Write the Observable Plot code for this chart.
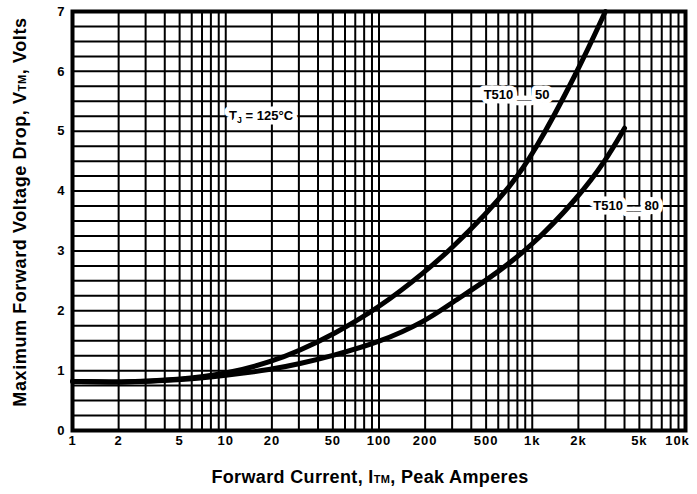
<!DOCTYPE html>
<html><head><meta charset="utf-8">
<script src="https://cdn.jsdelivr.net/npm/d3@7"></script>
<script src="https://cdn.jsdelivr.net/npm/@observablehq/plot@0.6"></script>
<style>body{margin:0;background:#fff} svg{display:block}</style>
</head><body><div id="chart"></div>
<script>
// Series: T510__50 (steeper) and T510__80
const currents50 = [1, 2, 5, 10, 20, 30, 50, 100, 200, 300, 500, 700, 1000, 2000, 3000];
const volts50    = [0.82, 0.8, 0.85, 0.94, 1.15, 1.33, 1.6, 2.05, 2.65, 3.05, 3.62, 4.05, 4.58, 6.02, 7.0];
const currents80 = [1, 2, 5, 10, 20, 30, 50, 100, 200, 300, 500, 1000, 2000, 3000, 4000];
const volts80    = [0.82, 0.8, 0.84, 0.92, 1.02, 1.11, 1.25, 1.47, 1.82, 2.14, 2.5, 3.08, 3.9, 4.5, 5.05];

// Axis ticks
const xTicks = [1, 2, 5, 10, 20, 50, 100, 200, 500, 1000, 2000, 5000, 10000];
const xTickLabels = ["1", "2", "5", "10", "20", "50", "100", "200", "500", "1k", "2k", "5k", "10k"];
const yTicks = [0, 1, 2, 3, 4, 5, 6, 7];
const yGrid = [0, 0.25, 0.5, 0.75, 1, 1.25, 1.5, 1.75, 2, 2.25, 2.5, 2.75, 3, 3.25, 3.5, 3.75,
               4, 4.25, 4.5, 4.75, 5, 5.25, 5.5, 5.75, 6, 6.25, 6.5, 6.75, 7];

// Annotations
const annotations = [
  {x: 17, y: 5.25, text: "TJ = 125°C"},
  {x: 790, y: 5.6, text: "T510 __ 50"},
  {x: 4100, y: 3.75, text: "T510 __ 80"}
];
const xTitle = "Forward Current, ITM, Peak Amperes";
const yTitle = "Maximum Forward Voltage Drop, VTM, Volts";

const s50 = currents50.map((c, i) => ({c, v: volts50[i]}));
const s80 = currents80.map((c, i) => ({c, v: volts80[i]}));
const xLab = xTicks.map((t, i) => ({t, label: xTickLabels[i]}));
const font = "'Liberation Sans', Arial, Helvetica, sans-serif";

const chart = Plot.plot({
  width: 697,
  height: 494,
  marginLeft: 72,
  marginRight: 12,
  marginTop: 11,
  marginBottom: 64,
  style: {fontFamily: font, fontSize: "13px", fontWeight: "bold", color: "#000", background: "#fff"},
  x: {type: "log", domain: [1, 10000], axis: null},
  y: {domain: [0, 7], axis: null},
  marks: [
    Plot.gridX({stroke: "#000", strokeOpacity: 1, strokeWidth: 2}),
    Plot.gridY(yGrid, {stroke: "#000", strokeOpacity: 1, strokeWidth: 2}),
    Plot.line(s50, {x: "c", y: "v", stroke: "#000", strokeWidth: 5, curve: "basis"}),
    Plot.line(s80, {x: "c", y: "v", stroke: "#000", strokeWidth: 5, curve: "basis"}),
    Plot.text(annotations, {x: "x", y: "y", text: "text", fill: "#000", stroke: "#fff", strokeWidth: 9,
      fontSize: 13, fontWeight: "bold", fontFamily: font}),
    Plot.frame({stroke: "#000", strokeWidth: 4}),
    // x tick labels
    Plot.text(xLab.slice(0, -1), {x: "t", text: "label", frameAnchor: "bottom", lineAnchor: "middle", dy: 10,
      fontSize: 13, fontWeight: "bold", fontFamily: font, fill: "#000"}),
    Plot.text(xLab.slice(-1), {x: "t", text: "label", frameAnchor: "bottom", lineAnchor: "middle", dy: 10, dx: -8,
      fontSize: 13, fontWeight: "bold", fontFamily: font, fill: "#000"}),
    // y tick labels
    Plot.text(yTicks, {y: d => d, text: d => String(d), frameAnchor: "left", textAnchor: "end", lineAnchor: "middle", dx: -7,
      fontSize: 13, fontWeight: "bold", fontFamily: font, fill: "#000"}),
    // titles
    Plot.text([xTitle], {frameAnchor: "bottom", lineAnchor: "middle", dy: 47, dx: -9, fontSize: 18, fontWeight: "bold", fontFamily: font, fill: "#000"}),
    Plot.text([yTitle], {frameAnchor: "left", rotate: -90, textAnchor: "middle", lineAnchor: "middle", dx: -52, dy: -9,
      fontSize: 18, fontWeight: "bold", fontFamily: font, fill: "#000"})
  ]
});
document.getElementById("chart").appendChild(chart);

// Subscripts and letter spacing
function rebuild(textEl, parts) {
  const sel = d3.select(textEl);
  sel.text(null);
  for (const [str, sub] of parts) {
    const t = sel.append("tspan").text(str);
    if (sub === "small") t.attr("font-size", "11px");
    if (sub === "sub") t.attr("font-size", "9px").attr("dy", "3");
    if (sub === "up") t.attr("dy", "-3");
  }
}
d3.select(chart).selectAll("text").each(function() {
  const s = this.textContent;
  if (s === xTitle) {
    rebuild(this, [["Forward Current, I"], ["TM", "small"], [", Peak Amperes"]]);
    this.style.letterSpacing = "0.35px";
  } else if (s === yTitle) {
    rebuild(this, [["Maximum Forward Voltage Drop, V"], ["TM", "small"], [", Volts"]]);
    this.style.letterSpacing = "0.6px";
  } else if (s === "TJ = 125°C") {
    rebuild(this, [["T"], ["J", "sub"], [" = 125°C", "up"]]);
  } else if (xTickLabels.includes(s) || yTicks.map(String).includes(s)) {
    this.style.letterSpacing = "1px";
  }
});
</script>
</body></html>
